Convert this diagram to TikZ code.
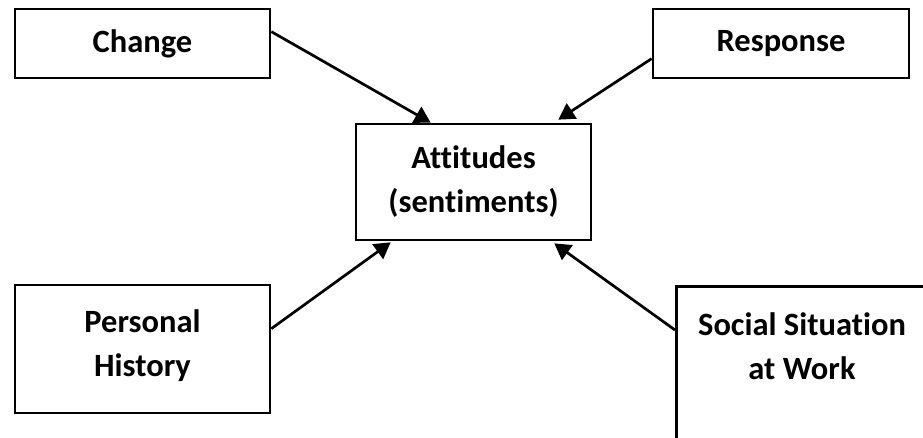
\documentclass[tikz,border=0pt]{standalone}
\usepackage{fontspec}
\setmainfont[Ligatures=NoCommon,RawFeature=-liga]{Carlito}
\usetikzlibrary{arrows.meta,calc}
\begin{document}
\begin{tikzpicture}[x=1pt,y=-1pt,
  box/.style={draw=black,line width=2.7pt,rectangle,inner sep=0pt,
    font=\fontsize{32.5}{44}\selectfont\bfseries,align=center},
  txt/.style={inner sep=0pt,font=\fontsize{32.5}{44}\selectfont\bfseries,align=center},
  conn/.style={line width=2.7pt,-{Triangle[length=16pt,width=18pt]}}]
\useasboundingbox (0,0) rectangle (923,437);
\fill[white] (0,0) rectangle (923,437);
\clip (0,0) rectangle (923,437);
\node[box,minimum width=255pt,minimum height=69pt] (change) at (142.5,43.5) {Change};
\node[box,minimum width=256pt,minimum height=69pt] (response) at (781,43.5) {Response};
\node[box,minimum width=235pt,minimum height=116pt] (att) at (473.5,182) {Attitudes\\(sentiments)};
\node[box,minimum width=255pt,minimum height=128pt] (personal) at (142.5,349) {};
\node[txt] (personaltext) at (142.5,346) {Personal\\History};
\node[box,minimum width=254pt,minimum height=200pt,anchor=north west] (social) at (675,285) {};
\node[txt] (socialtext) at (802,346) {Social Situation\\at Work};
\draw[conn] ($(change.north east)+(0,24)$) -- ($(att.north west)+(76,0)$);
\draw[conn] ($(response.north west)+(0,51)$) -- ($(att.north east)+(-34,-3)$);
\draw[conn] ($(personal.north east)+(0,45)$) -- ($(att.south west)+(36,1)$);
\draw[conn] ($(social.north west)+(0,45)$) -- ($(att.south east)+(-38,2)$);
\end{tikzpicture}
\end{document}
